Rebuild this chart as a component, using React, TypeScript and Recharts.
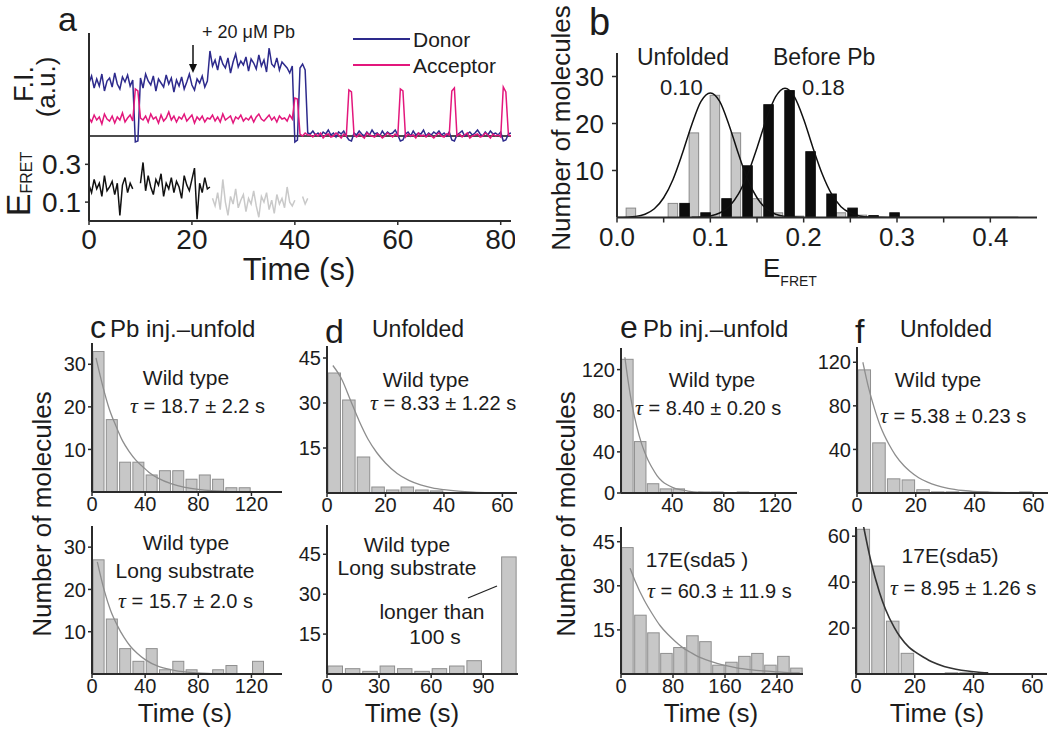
import React from 'react';
import { ComposedChart, LineChart, Line, Bar, XAxis, YAxis, ReferenceLine } from 'recharts';

const FONT = '"Liberation Sans", Arial, Helvetica, sans-serif';
const INK = '#1c1c1c';
const AXIS = { stroke: '#2b2b2b', strokeWidth: 2 };
const TICK_LINE = { stroke: '#2b2b2b', strokeWidth: 1.5 };
const YW = 60;
const XH = 44;
const MT = 4;
const MR = 4;

// ---- panel a: single-molecule traces, one sample every 0.5 s ----
const traceStep = 0.5;
const donor = [
  53, 60, 48, 57, 50, 62, 45, 55, 58, 49, 63, 52, 47, 59, 54, 61, 50, 56,
  -6, -5, 58,
  48, 62, 55, 51, 60, 45, 57, 53, 49, 61, 52, 58, 44, 56, 50, 59, 47, 54, 62, 51, 46, 57, 53, 60, 49, 55,
  85, 70, 76, 66, 80, 72, 68, 78, 63, 74, 82, 69, 75, 71, 79, 65, 77, 73, 67, 81, 70, 76, 64, 88, 72, 69, 78, 66, 74, 71, 68, 63, 70,
  -6, -4, 68, 72, 66, 3,
  2, 5, 1, 3, 0, 4, 2, 6, 1, 3, -1, 4, 2, 5, 0, -4, -5,
  3, 1, 5, 2, 0, 4, 1, 6, 2, 3, 0, 5, 1, 4, 2, 3, 6, 1, -5, -4,
  2, 4, 0, 5, 1, 3, 2, 6, 0, 3, 1, 4, 2, 5, 1, 3, 0, 4, -4, -5,
  1, 3, 5, 0, 2, 4, 1, 3, 6, 2, 0, 4, 1, 5, 2, 3, 1, 4, -5, -4, 2, 3,
];
const acceptor = [
  18, 14, 21, 16, 19, 12, 22, 17, 15, 20, 13, 19, 16, 23, 14, 18, 21, 15,
  47, 45, 18,
  16, 20, 14, 22, 17, 19, 13, 21, 15, 18, 24, 16, 20, 14, 19, 17, 22, 15, 18, 21, 13, 19, 16, 20, 14, 18,
  17, 21, 15, 19, 14, 22, 16, 18, 20, 13, 19, 17, 21, 15, 18, 16, 20, 14, 19, 22, 17, 15, 18, 21, 16, 19, 14, 20, 17, 18, 15, 21, 17,
  38, 37, 2, 0, 3, 1,
  1, -1, 2, 0, 3, -2, 1, 2, -1, 0, 3, 1, -2, 2, 0, 46, 44,
  1, -1, 2, 0, -2, 3, 1, 0, -1, 2, 1, -2, 0, 3, 1, -1, 2, 0, 47, 45,
  -1, 2, 0, 1, -2, 3, 0, 1, -1, 2, 0, -2, 1, 3, 0, -1, 2, 1, 45, 48,
  0, 2, -1, 1, 3, -2, 0, 1, 2, -1, 0, 3, 1, -2, 2, 0, 1, -1, 49, 44, 1, 0,
];
// E_FRET before Pb (0 - 23.5 s) and after the injection (24 - 42.5 s)
const fretBefore = [
  0.19, 0.15, 0.22, 0.17, 0.2, 0.13, 0.24, 0.16, 0.18, 0.21, 0.14, 0.2, 0.03, 0.19, 0.23, 0.15, 0.2, 0.17,
  null, null,
  0.2, 0.31, 0.16, 0.24, 0.18, 0.14, 0.22, 0.19, 0.25, 0.13, 0.2, 0.17, 0.23, 0.15, 0.21, 0.18, 0.12, 0.24,
  0.19, 0.16, 0.22, 0.28, 0.01, 0.2, 0.15, 0.23, 0.17, 0.18,
];
const fretAfterStart = 24;
const fretAfter = [
  0.12, 0.08, 0.15, 0.06, 0.22, 0.1, 0.03, 0.13, 0.09, 0.17, 0.07, 0.11, 0.14, 0.05, 0.12, 0.09,
  0.16, 0.08, 0.02, 0.13, 0.1, 0.15, 0.06, 0.11, 0.04, 0.14, 0.09, 0.12, 0.07, 0.18, 0.1, 0.08,
  0.11, null, null, 0.13, 0.09, 0.12,
];
const timeTicksA = [0, 20, 40, 60, 80];
const fretTicks = [0.1, 0.3];

// ---- panel b: E_FRET histograms ----
const grayCenters = [0.015, 0.06, 0.0825, 0.105, 0.1275, 0.15, 0.1725, 0.195, 0.24, 0.2625];
const grayCounts = [2, 3, 18, 26, 18, 4, 1, 0.3, 1, 0.5];
const blackCenters = [0.0725, 0.095, 0.1175, 0.14, 0.1625, 0.185, 0.2075, 0.23, 0.2525, 0.275, 0.2975];
const blackCounts = [3, 1, 4, 11, 24, 27, 14, 5, 2, 0.4, 1];
const unfoldedFit = [
  [0, 0], [0.02, 0.24], [0.03, 0.7], [0.04, 1.85], [0.05, 4.2], [0.06, 8.1], [0.07, 13.6], [0.08, 19.7],
  [0.09, 24.7], [0.1, 26.5], [0.11, 24.7], [0.12, 19.7], [0.13, 13.6], [0.14, 8.1], [0.15, 4.2],
  [0.16, 1.85], [0.17, 0.7], [0.18, 0.24], [0.2, 0.02],
];
const beforeFit = [
  [0.08, 0.03], [0.09, 0.1], [0.1, 0.34], [0.11, 0.95], [0.12, 2.3], [0.13, 4.95], [0.14, 9.2], [0.15, 14.8],
  [0.16, 20.9], [0.17, 25.7], [0.18, 27.5], [0.19, 25.7], [0.2, 20.9], [0.21, 14.8], [0.22, 9.2],
  [0.23, 4.95], [0.24, 2.3], [0.25, 0.95], [0.26, 0.34], [0.27, 0.1], [0.29, 0.01], [0.43, 0],
];
const bTicks = [0, 0.05, 0.1, 0.15, 0.2, 0.25, 0.3, 0.35, 0.4];

// ---- panels c-f: dwell-time histograms ----
const cTopCounts = [33, 17, 7, 7, 4, 5, 5, 3, 4, 3, 1, 1];
const cTopFit = [[3, 31.5], [8, 25], [13, 19.5], [18, 15.5], [23, 12], [28, 9.5], [33, 7.5], [38, 6], [43, 4.6], [50, 3.2], [60, 1.9], [70, 1.1], [80, 0.6], [90, 0.3], [100, 0.15], [118, 0]];
const cBotCounts = [27, 13, 6, 3, 6, 1, 3, 1, 0, 1, 2, 0, 3];
const cBotFit = [[4, 26.5], [9, 20], [14, 15], [19, 11.5], [24, 8.7], [29, 6.5], [34, 4.9], [40, 3.4], [50, 1.8], [60, 1], [70, 0.5], [80, 0.25], [90, 0.1], [100, 0]];
const dTopCounts = [40, 31, 12, 2, 1, 2, 1, 0.7];
const dTopFit = [[2, 42.5], [5, 38], [8, 31], [11, 24], [14, 18], [17, 13.5], [20, 10], [24, 6.5], [28, 4.2], [32, 2.7], [36, 1.7], [40, 1.1], [45, 0.6], [50, 0.3], [56, 0.1]];
const dBotCounts = [3, 2, 1, 3, 2, 1, 2, 3, 5, 0, 44];
const eTopCounts = [130, 50, 9, 4, 4, 0, 1, 1, 0, 1];
const eTopFit = [[3, 132], [6, 105], [9, 83], [12, 66], [16, 48], [18, 41], [21, 32], [24, 25], [28, 17], [32, 11.5], [36, 8], [40, 5.5], [46, 3.2], [52, 1.9], [62, 0.7], [72, 0.3], [82, 0.1]];
const eBotCounts = [43, 20, 14, 7, 9, 13, 11, 3, 4, 6, 7, 3, 6, 2];
const eBotFit = [[14, 36], [22, 31.5], [36, 25], [48, 20.5], [60, 16.5], [72, 13.5], [84, 11], [96, 8.8], [106, 7.5], [118, 6], [138, 4.3], [158, 3], [178, 2.1], [198, 1.5], [218, 1.05], [238, 0.75], [258, 0.5], [275, 0.4]];
const fTopCounts = [113, 46, 13, 12, 3, 1, 1, 0, 1, 0, 0, 1];
const fTopFit = [[2, 120], [4, 96], [6, 77], [8, 61], [11, 44], [13, 35], [16, 25], [18, 20], [21, 14], [24, 10], [27, 7], [31, 4.3], [36, 2.3], [41, 1.2], [48, 0.5], [58, 0.1]];
const fBotCounts = [63, 47, 23, 9, 0, 0, 0.5, 0.5];
const fBotFit = [[2.3, 66], [5, 49.5], [8, 35.5], [10, 28.3], [13, 20.3], [15, 16.2], [18, 11.7], [20, 9.7], [23, 7.3], [26, 5.2], [30, 3.3], [34, 2.1], [38, 1.3], [41, 0.9], [45, 0.5]];

const barShape = (w: number, fill: string, stroke: string) => (p: any) => {
  if (!(p.height > 0)) return <g />;
  return (
    <rect x={p.x + p.width / 2 - w / 2} y={p.y} width={w} height={p.height}
      fill={fill} stroke={stroke} strokeWidth={1} />
  );
};

function PanelA() {
  const x0 = 89, x1 = 511;
  const rows = donor.map((d, i) => ({ t: i * traceStep, donor: d, acceptor: acceptor[i] }));
  const fretRows = [
    ...fretBefore.map((v, i) => ({ t: i * traceStep, before: v })),
    ...fretAfter.map((v, i) => ({ t: fretAfterStart + i * traceStep, after: v })),
  ];
  return (
    <>
      <div style={{ position: 'absolute', left: x0 - YW, top: 33 - MT }}>
        <LineChart width={x1 - x0 + YW + MR} height={113 + MT} data={rows}
          margin={{ top: MT, right: MR, bottom: 0, left: 0 }}>
          <XAxis type="number" dataKey="t" domain={[0, 82]} allowDataOverflow hide />
          <YAxis type="number" domain={[-10, 103]} allowDataOverflow width={YW}
            tick={false} tickLine={false} axisLine={AXIS} />
          <ReferenceLine y={0} stroke="#111" strokeWidth={1.6} />
          <Line dataKey="donor" type="linear" stroke="#2d2a8c" strokeWidth={1.5} dot={false} isAnimationActive={false} />
          <Line dataKey="acceptor" type="linear" stroke="#e3177c" strokeWidth={1.5} dot={false} isAnimationActive={false} />
        </LineChart>
      </div>
      <div style={{ position: 'absolute', left: x0 - YW, top: 136 - MT }}>
        <LineChart width={x1 - x0 + YW + MR} height={85 + MT + XH} data={fretRows}
          margin={{ top: MT, right: MR, bottom: 0, left: 0 }}>
          <XAxis type="number" dataKey="t" domain={[0, 82]} ticks={timeTicksA} interval={0}
            allowDataOverflow height={XH} tickSize={4} tickMargin={4}
            tick={{ fontSize: 28, fill: INK }} axisLine={AXIS} tickLine={TICK_LINE} />
          <YAxis type="number" domain={[0, 0.45]} ticks={fretTicks} interval={0} allowDataOverflow width={YW}
            tickSize={4} tickMargin={4} tickFormatter={(v: number) => v.toFixed(1)}
            tick={{ fontSize: 28, fill: INK }} axisLine={AXIS} tickLine={TICK_LINE} />
          <Line dataKey="before" type="linear" stroke="#111" strokeWidth={1.5} dot={false} isAnimationActive={false} />
          <Line dataKey="after" type="linear" stroke="#c9c9c9" strokeWidth={1.5} dot={false} isAnimationActive={false} />
        </LineChart>
      </div>
    </>
  );
}

function PanelB() {
  const x0 = 617, x1 = 1037, y0 = 52.5, y1 = 217;
  const rows = [
    ...grayCenters.map((e, i) => ({ e, gray: grayCounts[i] })),
    ...blackCenters.map((e, i) => ({ e, black: blackCounts[i] })),
    ...unfoldedFit.map(([e, v]) => ({ e, unf: v })),
    ...beforeFit.map(([e, v]) => ({ e, bef: v })),
  ];
  return (
    <div style={{ position: 'absolute', left: x0 - YW, top: y0 - MT }}>
      <ComposedChart width={x1 - x0 + YW + MR} height={y1 - y0 + MT + XH} data={rows}
        margin={{ top: MT, right: MR, bottom: 0, left: 0 }}>
        <XAxis type="number" dataKey="e" domain={[0, 0.45]} ticks={bTicks} interval={0}
          allowDataOverflow height={XH} tickSize={5} tickMargin={5}
          tickFormatter={(v: number) => (Math.round(v * 100) % 10 === 0 ? v.toFixed(1) : '')}
          tick={{ fontSize: 26, fill: INK }} axisLine={AXIS} tickLine={TICK_LINE} />
        <YAxis type="number" domain={[0, 35]} ticks={[10, 20, 30]} interval={0} allowDataOverflow width={YW}
          tickSize={5} tickMargin={8} tick={{ fontSize: 26, fill: INK }} axisLine={AXIS} tickLine={TICK_LINE} />
        <Bar dataKey="gray" stackId="h" barSize={9} isAnimationActive={false}
          shape={barShape(9.5, '#c8c8c8', '#8a8a8a')} />
        <Bar dataKey="black" stackId="h" barSize={9} isAnimationActive={false}
          shape={barShape(9.5, '#0d0d0d', '#0d0d0d')} />
        <Line dataKey="unf" type="monotone" connectNulls stroke="#111" strokeWidth={1.5} dot={false} isAnimationActive={false} />
        <Line dataKey="bef" type="monotone" connectNulls stroke="#111" strokeWidth={1.5} dot={false} isAnimationActive={false} />
      </ComposedChart>
    </div>
  );
}

type HistProps = {
  x0: number; x1: number; y0: number; y1: number;
  xMax: number; yMax: number; xTicks: number[]; yTicks: number[];
  counts: number[]; bin: number; barW: number;
  fit: number[][]; fitColor?: string; fitWidth?: number;
};

function Hist({ x0, x1, y0, y1, xMax, yMax, xTicks, yTicks, counts, bin, barW, fit, fitColor = '#8d8d8d', fitWidth = 1.3 }: HistProps) {
  const rows = [
    ...counts.map((n, i) => ({ t: (i + 0.5) * bin, n })),
    ...fit.map(([t, v]) => ({ t, fit: v })),
  ];
  return (
    <div style={{ position: 'absolute', left: x0 - YW, top: y0 - MT }}>
      <ComposedChart width={x1 - x0 + YW + MR} height={y1 - y0 + MT + XH} data={rows}
        margin={{ top: MT, right: MR, bottom: 0, left: 0 }}>
        <XAxis type="number" dataKey="t" domain={[0, xMax]} ticks={xTicks} interval={0}
          allowDataOverflow height={XH} tickSize={4} tickMargin={1}
          tick={{ fontSize: 20, fill: INK }} axisLine={AXIS} tickLine={TICK_LINE} />
        <YAxis type="number" domain={[0, yMax]} ticks={yTicks} interval={0} allowDataOverflow width={YW}
          tickSize={4} tickMargin={2} tick={{ fontSize: 20, fill: INK }} axisLine={AXIS} tickLine={TICK_LINE} />
        <Bar dataKey="n" barSize={barW} isAnimationActive={false}
          shape={barShape(barW, '#c7c7c7', '#8f8f8f')} />
        <Line dataKey="fit" type="monotone" connectNulls stroke={fitColor} strokeWidth={fitWidth}
          dot={false} isAnimationActive={false} />
      </ComposedChart>
    </div>
  );
}

const hists: HistProps[] = [
  { x0: 92, x1: 282, y0: 343, y1: 492, xMax: 143, yMax: 35, xTicks: [0, 40, 80, 120], yTicks: [10, 20, 30], counts: cTopCounts, bin: 10, barW: 11, fit: cTopFit },
  { x0: 92, x1: 282, y0: 526, y1: 674, xMax: 143, yMax: 35, xTicks: [0, 40, 80, 120], yTicks: [10, 20, 30], counts: cBotCounts, bin: 10, barW: 11, fit: cBotFit },
  { x0: 327, x1: 517, y0: 346, y1: 493, xMax: 65, yMax: 49, xTicks: [0, 20, 40, 60], yTicks: [15, 30, 45], counts: dTopCounts, bin: 5, barW: 12.5, fit: dTopFit },
  { x0: 327, x1: 518, y0: 525, y1: 674, xMax: 110, yMax: 56, xTicks: [0, 30, 60, 90], yTicks: [15, 30, 45], counts: dBotCounts, bin: 10, barW: 14.5, fit: [] },
  { x0: 621, x1: 797, y0: 348, y1: 493, xMax: 137, yMax: 141, xTicks: [40, 80, 120], yTicks: [0, 40, 80, 120], counts: eTopCounts, bin: 10, barW: 11.5, fit: eTopFit },
  { x0: 621, x1: 803, y0: 527, y1: 674, xMax: 280, yMax: 50, xTicks: [0, 80, 160, 240], yTicks: [15, 30, 45], counts: eBotCounts, bin: 20, barW: 11.5, fit: eBotFit },
  { x0: 857, x1: 1048, y0: 347, y1: 493, xMax: 65, yMax: 134, xTicks: [0, 20, 40, 60], yTicks: [40, 80, 120], counts: fTopCounts, bin: 5, barW: 12.5, fit: fTopFit },
  { x0: 856, x1: 1047, y0: 527, y1: 674, xMax: 65, yMax: 64, xTicks: [0, 20, 40, 60], yTicks: [20, 40, 60], counts: fBotCounts, bin: 5, barW: 12.5, fit: fBotFit, fitColor: '#333', fitWidth: 1.6 },
];

function Txt({ x, y, size = 21, anchor = 'start', rotate = false, children }: any) {
  return (
    <text x={x} y={y} fontSize={size} textAnchor={anchor} fill={INK}
      transform={rotate ? `rotate(-90 ${x} ${y})` : undefined}>{children}</text>
  );
}

function Tau({ x, y, value }: { x: number; y: number; value: string }) {
  return (
    <text x={x} y={y} fontSize={20} fill={INK}>
      <tspan fontFamily='"Liberation Serif", serif' fontStyle="italic" fontSize={22}>τ</tspan>
      {` = ${value} s`}
    </text>
  );
}

function Overlay() {
  return (
    <svg width={1050} height={729} style={{ position: 'absolute', left: 0, top: 0, pointerEvents: 'none' }}>
      {/* panel a */}
      <Txt x={58} y={31} size={34}>a</Txt>
      <Txt x={202} y={38} size={18}>+ 20 μM Pb</Txt>
      <line x1={193} y1={45} x2={193} y2={66} stroke="#111" strokeWidth={1.5} />
      <polygon points="189,64 197,64 193,73" fill="#111" />
      <line x1={353} y1={39} x2={410} y2={39} stroke="#2d2a8c" strokeWidth={2} />
      <Txt x={413} y={47} size={21}>Donor</Txt>
      <line x1={353} y1={65} x2={410} y2={65} stroke="#e3177c" strokeWidth={2} />
      <Txt x={413} y={73} size={21}>Acceptor</Txt>
      <Txt x={33} y={84} size={27} anchor="middle" rotate>F.I.</Txt>
      <Txt x={55} y={87} size={26} anchor="middle" rotate>(a.u.)</Txt>
      <text x={30} y={184} textAnchor="middle" fill={INK} transform="rotate(-90 30 184)">
        <tspan fontSize={34}>E</tspan><tspan fontSize={16} dy={2}>FRET</tspan>
      </text>
      <Txt x={299} y={280} size={31} anchor="middle">Time (s)</Txt>

      {/* panel b */}
      <Txt x={589} y={35} size={38}>b</Txt>
      <Txt x={570} y={128} size={26} anchor="middle" rotate>Number of molecules</Txt>
      <text x={763} y={277} fill={INK}>
        <tspan fontSize={26}>E</tspan><tspan fontSize={14} dy={9}>FRET</tspan>
      </text>
      <Txt x={637} y={65} size={23}>Unfolded</Txt>
      <Txt x={660} y={95} size={22}>0.10</Txt>
      <Txt x={773} y={65} size={23}>Before Pb</Txt>
      <Txt x={802} y={95} size={22}>0.18</Txt>

      {/* panel c */}
      <Txt x={90} y={338} size={32}>c</Txt>
      <Txt x={110} y={337} size={24}>Pb inj.–unfold</Txt>
      <Txt x={186} y={385} anchor="middle">Wild type</Txt>
      <Tau x={130} y={413} value="18.7 ± 2.2" />
      <Txt x={186} y={550} anchor="middle">Wild type</Txt>
      <Txt x={185} y={578} anchor="middle">Long substrate</Txt>
      <Tau x={118} y={608} value="15.7 ± 2.0" />
      <Txt x={51} y={514} size={26} anchor="middle" rotate>Number of molecules</Txt>
      <Txt x={185} y={722} size={26} anchor="middle">Time (s)</Txt>

      {/* panel d */}
      <Txt x={325} y={343} size={34}>d</Txt>
      <Txt x={372} y={337} size={23}>Unfolded</Txt>
      <Txt x={426} y={387} anchor="middle">Wild type</Txt>
      <Tau x={370} y={410} value="8.33 ± 1.22" />
      <Txt x={407} y={552} anchor="middle">Wild type</Txt>
      <Txt x={407} y={575} anchor="middle">Long substrate</Txt>
      <Txt x={432} y={619} anchor="middle">longer than</Txt>
      <Txt x={435} y={644} anchor="middle">100 s</Txt>
      <line x1={468} y1={598} x2={497} y2={586} stroke="#222" strokeWidth={1.3} />
      <Txt x={412} y={722} size={26} anchor="middle">Time (s)</Txt>

      {/* panel e */}
      <Txt x={620} y={338} size={32}>e</Txt>
      <Txt x={643} y={337} size={24}>Pb inj.–unfold</Txt>
      <Txt x={712} y={387} anchor="middle">Wild type</Txt>
      <Tau x={635} y={415} value="8.40 ± 0.20" />
      <Txt x={697} y={567} anchor="middle">17E(sda5 )</Txt>
      <Tau x={647} y={598} value="60.3 ± 11.9" />
      <Txt x={575} y={514} size={26} anchor="middle" rotate>Number of molecules</Txt>
      <Txt x={711} y={722} size={26} anchor="middle">Time (s)</Txt>

      {/* panel f */}
      <Txt x={855} y={343} size={34}>f</Txt>
      <Txt x={900} y={337} size={23}>Unfolded</Txt>
      <Txt x={938} y={387} anchor="middle">Wild type</Txt>
      <Tau x={880} y={423} value="5.38 ± 0.23" />
      <Txt x={950} y={563} anchor="middle">17E(sda5)</Txt>
      <Tau x={890} y={595} value="8.95 ± 1.26" />
      <Txt x={937} y={722} size={26} anchor="middle">Time (s)</Txt>
    </svg>
  );
}

export default function App() {
  return (
    <div style={{ position: 'absolute', left: 0, top: 0, width: 1050, height: 729, background: '#fff', fontFamily: FONT, overflow: 'hidden' }}>
      <PanelA />
      <PanelB />
      {hists.map((h, i) => <Hist key={i} {...h} />)}
      <Overlay />
    </div>
  );
}
